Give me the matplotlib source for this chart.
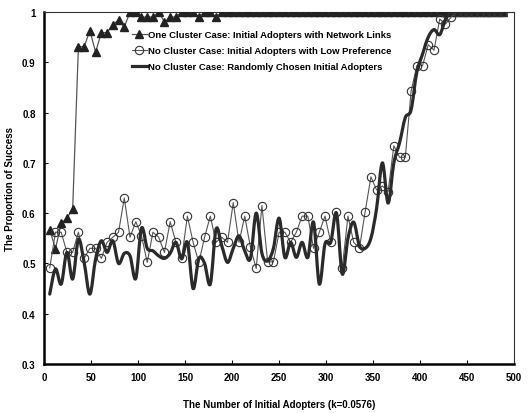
import numpy as np
import matplotlib
matplotlib.use("Agg")
import matplotlib.pyplot as plt
from matplotlib.path import Path
from matplotlib.patches import PathPatch
from matplotlib.lines import Line2D

plt.rcParams['font.family'] = ['Liberation Sans', 'DejaVu Sans']

# x positions of the 80 observations
idx = np.arange(1, 81)
x_vals = idx * 6.1

one_cluster = [0.567, 0.529, 0.58, 0.59, 0.608, 0.931, 0.931, 0.963, 0.92, 0.959,
               0.959, 0.975, 0.984, 0.97, 1.0, 1.0, 0.99, 0.99, 0.99, 1.0,
               0.98, 0.99, 0.99, 1.0, 1.0, 1.0, 0.99, 1.0, 1.0, 0.99,
               1.0, 1.0, 1.0, 1.0, 1.0, 1.0, 1.0, 1.0, 1.0, 1.0,
               1.0, 1.0, 1.0, 1.0, 1.0, 1.0, 1.0, 1.0, 1.0, 1.0,
               1.0, 1.0, 1.0, 1.0, 1.0, 1.0, 1.0, 1.0, 1.0, 1.0,
               1.0, 1.0, 1.0, 1.0, 1.0, 1.0, 1.0, 1.0, 1.0, 1.0,
               1.0, 1.0, 1.0, 1.0, 1.0, 1.0, 1.0, 1.0, 1.0, 1.0]

low_pref = [0.491, 0.562, 0.562, 0.522, 0.522, 0.562, 0.51, 0.53, 0.53, 0.51,
            0.542, 0.552, 0.562, 0.63, 0.552, 0.583, 0.555, 0.502, 0.562, 0.552,
            0.522, 0.583, 0.542, 0.51, 0.594, 0.542, 0.502, 0.552, 0.594, 0.542,
            0.552, 0.542, 0.621, 0.542, 0.594, 0.532, 0.49, 0.615, 0.503, 0.503,
            0.562, 0.562, 0.542, 0.562, 0.594, 0.594, 0.53, 0.562, 0.594, 0.542,
            0.603, 0.491, 0.594, 0.542, 0.53, 0.603, 0.672, 0.646, 0.654, 0.643,
            0.734, 0.711, 0.711, 0.842, 0.893, 0.893, 0.935, 0.924, 0.986, 0.976,
            0.99, 1.0, 1.0, 1.0, 1.0, 1.0, 1.0, 1.0, 1.0, 1.0]

random_init = [0.439, 0.489, 0.459, 0.522, 0.469, 0.548, 0.502, 0.439, 0.509, 0.545,
               0.522, 0.545, 0.50, 0.52, 0.515, 0.47, 0.57, 0.53, 0.525, 0.515,
               0.51, 0.52, 0.542, 0.509, 0.542, 0.45, 0.51, 0.50, 0.459, 0.568,
               0.535, 0.502, 0.53, 0.555, 0.525, 0.51, 0.60, 0.52, 0.505, 0.53,
               0.59, 0.512, 0.542, 0.512, 0.542, 0.512, 0.582, 0.459, 0.539, 0.542,
               0.60, 0.479, 0.55, 0.582, 0.535, 0.53, 0.55, 0.61, 0.70, 0.62,
               0.70, 0.74, 0.79, 0.805, 0.88, 0.916, 0.95, 0.965, 0.955, 0.985,
               1.0, 1.0, 1.0, 1.0, 1.0, 1.0, 1.0, 1.0, 1.0, 1.0]

labels = ["One Cluster Case: Initial Adopters with Network Links",
          "No Cluster Case: Initial Adopters with Low Preference",
          "No Cluster Case: Randomly Chosen Initial Adopters"]

fig = plt.figure(figsize=(5.30, 4.14), dpi=100)
ax = fig.add_axes([0.083, 0.1184, 0.887, 0.8502])

l1, = ax.plot(x_vals, one_cluster, color='#555555', lw=0.9, marker='^',
              markersize=5.5, markerfacecolor='#222222', markeredgecolor='#222222',
              zorder=3)
l2, = ax.plot(x_vals, low_pref, color='#555555', lw=0.8, marker='o',
              markersize=6, markerfacecolor='none', markeredgecolor='#333333',
              markeredgewidth=0.8, zorder=4)

# smoothed thick line (Bezier through data points)
xs = np.asarray(x_vals, float)
ys = np.asarray(random_init, float)
pts = np.column_stack([xs, ys])
verts = [pts[0]]
codes = [Path.MOVETO]
n = len(pts)
for i in range(n - 1):
    p0 = pts[i - 1] if i > 0 else pts[i]
    p1 = pts[i]
    p2 = pts[i + 1]
    p3 = pts[i + 2] if i + 2 < n else pts[i + 1]
    c1 = p1 + (p2 - p0) / 6.0
    c2 = p2 - (p3 - p1) / 6.0
    verts += [c1, c2, p2]
    codes += [Path.CURVE4] * 3
ax.add_patch(PathPatch(Path(verts, codes), facecolor='none', edgecolor='#2a2a2a',
                       lw=2.3, zorder=5, capstyle='round', joinstyle='round'))
l3 = Line2D([], [], color='#2a2a2a', lw=2.3)

ax.set_xlim(0, 500)
ax.set_ylim(0.3, 1.0)
ax.set_xticks(np.arange(0, 501, 50))
ax.set_yticks([0.3, 0.4, 0.5, 0.6, 0.7, 0.8, 0.9, 1.0])
ax.set_yticklabels(['0.3', '0.4', '0.5', '0.6', '0.7', '0.8', '0.9', '1'])
ax.tick_params(direction='in', length=3, width=0.8, labelsize=7, pad=6)
for lab in ax.get_xticklabels() + ax.get_yticklabels():
    lab.set_fontweight('bold')

for s in ['left', 'bottom']:
    ax.spines[s].set_linewidth(1.8)
    ax.spines[s].set_color('black')
for s in ['top', 'right']:
    ax.spines[s].set_linewidth(0.8)
    ax.spines[s].set_color('#333333')

ax.set_xlabel("The Number of Initial Adopters (k=0.0576)", fontsize=7,
              fontweight='bold', labelpad=12)
ax.set_ylabel("The Proportion of Success", fontsize=7, fontweight='bold',
              labelpad=5)

leg = ax.legend([l1, l2, l3], labels, loc='upper left',
                bbox_to_anchor=(0.18, 0.96), frameon=False,
                handlelength=1.5, handletextpad=0.2, labelspacing=0.75,
                borderaxespad=0.0, prop={'weight': 'bold', 'size': 6.8})

fig.savefig("out.png", dpi=100)
